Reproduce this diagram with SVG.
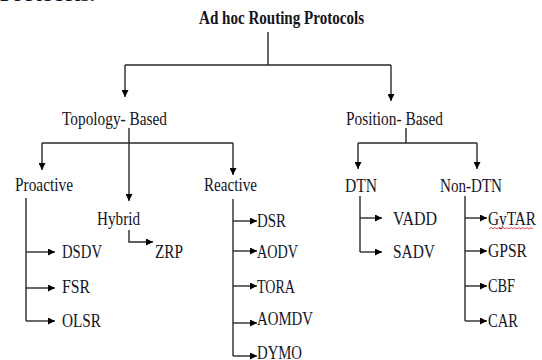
<svg xmlns="http://www.w3.org/2000/svg" width="542" height="360" viewBox="0 0 542 360">
<style>
text{font-family:"Liberation Serif","Times New Roman",serif;font-size:18px;fill:#14141e}
.t{font-weight:bold}
.c{fill:none;stroke:#2a2a2a;stroke-width:1.4}
</style>
<defs>
<marker id="ah" viewBox="0 0 10 10" refX="10" refY="5" markerWidth="8" markerHeight="7" markerUnits="userSpaceOnUse" orient="auto">
<path d="M0,0 L10,5 L0,10 Z" fill="#000"/>
</marker>
<marker id="ad" viewBox="0 0 10 10" refX="10" refY="5" markerWidth="10" markerHeight="7" markerUnits="userSpaceOnUse" orient="auto">
<path d="M0,0 L10,5 L0,10 Z" fill="#000"/>
</marker>
</defs>
<rect width="542" height="360" fill="#fff"/>
<text x="0" y="1" font-weight="bold" textLength="95" lengthAdjust="spacingAndGlyphs">Protocols.</text>
<g id="connectors">
<path class="c" d="M268,32 V65 M125,65 H391"/>
<path class="c" d="M125,65 V97" marker-end="url(#ad)"/>
<path class="c" d="M391,65 V101" marker-end="url(#ad)"/>
<path class="c" d="M129,128 V143 M42,143 H233"/>
<path class="c" d="M42,143 V170" marker-end="url(#ad)"/>
<path class="c" d="M233,143 V175" marker-end="url(#ad)"/>
<path class="c" d="M129,143 V201" marker-end="url(#ad)"/>
<path class="c" d="M406,128 V143 M358,143 H477"/>
<path class="c" d="M358,143 V169" marker-end="url(#ad)"/>
<path class="c" d="M477,143 V169" marker-end="url(#ad)"/>
<path class="c" d="M26,198 V321"/>
<path class="c" d="M26,252 H55" marker-end="url(#ah)"/>
<path class="c" d="M26,288 H55" marker-end="url(#ah)"/>
<path class="c" d="M26,321 H55" marker-end="url(#ah)"/>
<path class="c" d="M129,230 V242 H153" marker-end="url(#ah)"/>
<path class="c" d="M233,199 V356"/>
<path class="c" d="M233,221 H257" marker-end="url(#ah)"/>
<path class="c" d="M233,251 H257" marker-end="url(#ah)"/>
<path class="c" d="M233,286 H257" marker-end="url(#ah)"/>
<path class="c" d="M233,323 H257" marker-end="url(#ah)"/>
<path class="c" d="M233,356 H257" marker-end="url(#ah)"/>
<path class="c" d="M360,196 V252"/>
<path class="c" d="M360,218 H382" marker-end="url(#ah)"/>
<path class="c" d="M360,252 H382" marker-end="url(#ah)"/>
<path class="c" d="M465,196 V321"/>
<path class="c" d="M465,218 H487" marker-end="url(#ah)"/>
<path class="c" d="M465,251 H487" marker-end="url(#ah)"/>
<path class="c" d="M465,286 H487" marker-end="url(#ah)"/>
<path class="c" d="M465,321 H487" marker-end="url(#ah)"/>
</g>
<g id="root"><text class="t" x="199" y="24" textLength="165" lengthAdjust="spacingAndGlyphs">Ad hoc Routing Protocols</text></g>
<g id="topology"><text x="62" y="125" textLength="105" lengthAdjust="spacingAndGlyphs">Topology- Based</text></g>
<g id="position"><text x="346" y="125" textLength="97" lengthAdjust="spacingAndGlyphs">Position- Based</text></g>
<g id="proactive"><text x="15" y="191" textLength="58" lengthAdjust="spacingAndGlyphs">Proactive</text></g>
<g id="hybrid"><text x="97" y="225" textLength="43" lengthAdjust="spacingAndGlyphs">Hybrid</text></g>
<g id="reactive"><text x="204" y="191" textLength="53" lengthAdjust="spacingAndGlyphs">Reactive</text></g>
<g id="dtn"><text x="345" y="192" textLength="32" lengthAdjust="spacingAndGlyphs">DTN</text></g>
<g id="nondtn"><text x="440" y="192" textLength="62" lengthAdjust="spacingAndGlyphs">Non-DTN</text></g>
<g id="dsdv"><text x="62" y="258" textLength="40" lengthAdjust="spacingAndGlyphs">DSDV</text></g>
<g id="fsr"><text x="62" y="293" textLength="28" lengthAdjust="spacingAndGlyphs">FSR</text></g>
<g id="olsr"><text x="62" y="327" textLength="39" lengthAdjust="spacingAndGlyphs">OLSR</text></g>
<g id="zrp"><text x="155" y="258" textLength="28" lengthAdjust="spacingAndGlyphs">ZRP</text></g>
<g id="dsr"><text x="257" y="227" textLength="29" lengthAdjust="spacingAndGlyphs">DSR</text></g>
<g id="aodv"><text x="257" y="258" textLength="41" lengthAdjust="spacingAndGlyphs">AODV</text></g>
<g id="tora"><text x="257" y="293" textLength="38" lengthAdjust="spacingAndGlyphs">TORA</text></g>
<g id="aomdv"><text x="257" y="325" textLength="56" lengthAdjust="spacingAndGlyphs">AOMDV</text></g>
<g id="dymo"><text x="257" y="359" textLength="45" lengthAdjust="spacingAndGlyphs">DYMO</text></g>
<g id="vadd"><text x="393" y="225" textLength="44" lengthAdjust="spacingAndGlyphs">VADD</text></g>
<g id="sadv"><text x="393" y="258" textLength="42" lengthAdjust="spacingAndGlyphs">SADV</text></g>
<g id="gytar"><text x="488" y="225" textLength="48" lengthAdjust="spacingAndGlyphs">GyTAR</text>
<path d="M489,229 l2,-1.5 l2,1.5 l2,-1.5 l2,1.5 l2,-1.5 l2,1.5 l2,-1.5 l2,1.5 l2,-1.5 l2,1.5 l2,-1.5 l2,1.5 l2,-1.5 l2,1.5 l2,-1.5 l2,1.5 l2,-1.5 l2,1.5 l2,-1.5 l2,1.5 l2,-1.5 l2,1.5" fill="none" stroke="#e02020" stroke-width="0.8"/></g>
<g id="gpsr"><text x="488" y="257" textLength="39" lengthAdjust="spacingAndGlyphs">GPSR</text></g>
<g id="cbf"><text x="488" y="292" textLength="27" lengthAdjust="spacingAndGlyphs">CBF</text></g>
<g id="car"><text x="488" y="327" textLength="30" lengthAdjust="spacingAndGlyphs">CAR</text></g>
</svg>
